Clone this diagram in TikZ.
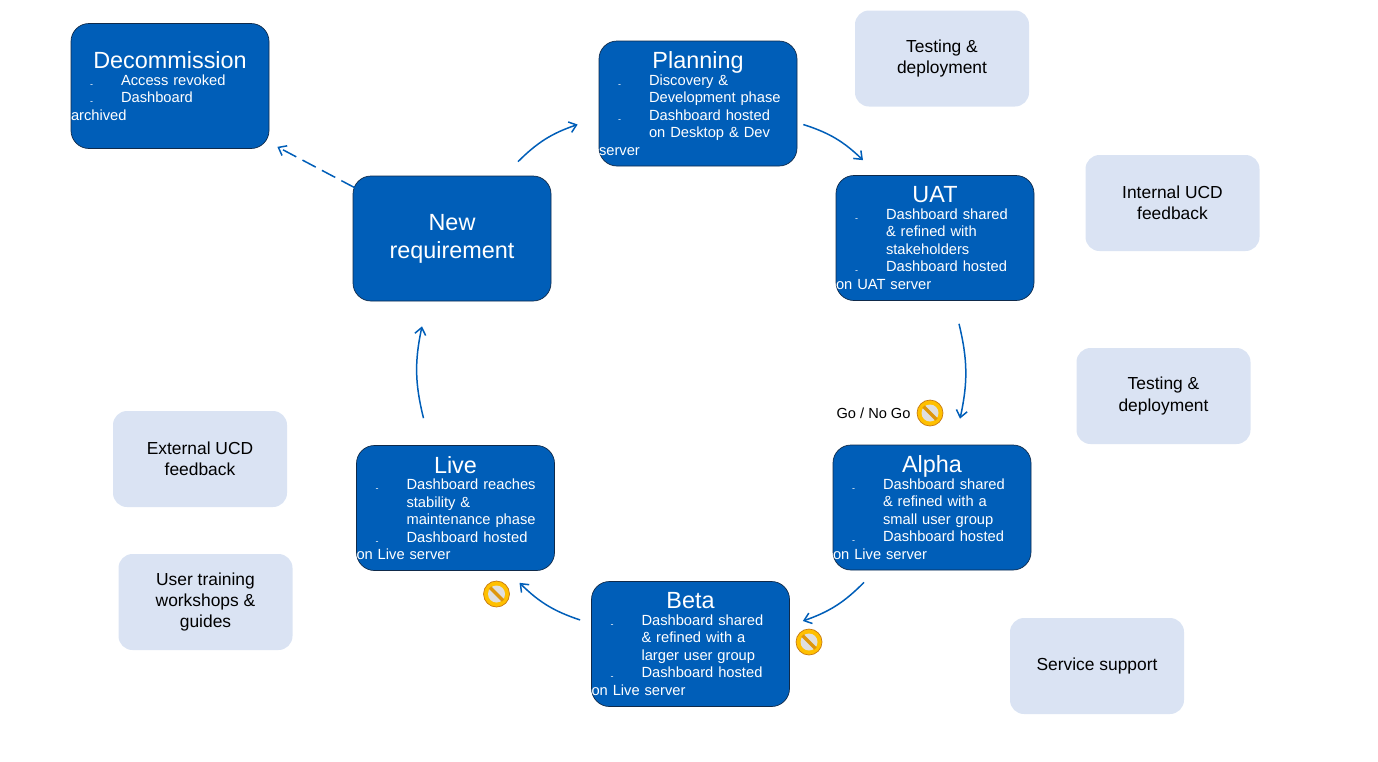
\documentclass[tikz,border=0pt]{standalone}
\usepackage{fontspec}
\setmainfont{Liberation Sans}
\usetikzlibrary{positioning,arrows.meta}
\definecolor{nhsblue}{HTML}{005EB8}
\definecolor{navyline}{HTML}{0F2A4A}
\definecolor{paleblue}{HTML}{DAE3F3}
\definecolor{stopfill}{HTML}{FFC000}
\definecolor{stopline}{HTML}{C87A10}
\newcommand{\boxtitle}[1]{{\centering\fontsize{23.4}{24}\selectfont #1\par}\vspace{-1pt}}
\newcommand{\dashitem}[1]{\par\leftskip=50pt\noindent\llap{\raisebox{-2pt}{\fontsize{9}{9}\selectfont -}\hspace{28pt}}#1}
\begin{document}
\begin{tikzpicture}[%
        x=1pt,y=-1pt,
        flow/.style={
          -{Straight Barb[length=7pt,width=11pt,line width=1.5pt]},
          draw=nhsblue,
          line width=1.5pt
        },
        stagebox/.style={
          rectangle,
          rounded corners=18pt,
          draw=navyline,
          fill=nhsblue,
          text=white,
          line width=0.7pt,
          inner sep=0pt,
          minimum width=198pt,
          minimum height=125pt,
          text width=198pt,
          font=\fontsize{14.7}{17.5}\selectfont
        },
        notebox/.style={
          rectangle,
          rounded corners=14pt,
          fill=paleblue,
          text=black,
          inner sep=0pt,
          minimum width=174pt,
          minimum height=96pt,
          align=center,
          font=\fontsize{17.4}{21.3}\selectfont
        },
        nogo/.style={
          circle,
          draw=stopline,
          fill=stopfill,
          line width=0.7pt,
          minimum size=26pt,
          inner sep=0pt,
          path picture={
            \fill[fill=white!75!gray] (path picture bounding box.center) circle (8.5pt);
            \draw[stopline!60!stopfill,line width=3.4pt,line cap=butt]
              ([shift={(-6.5pt,6.5pt)}]path picture bounding box.center) --
              ([shift={(6.5pt,-6.5pt)}]path picture bounding box.center);
          }
        }
      ]
      \useasboundingbox (0,0) rectangle (1378,761);

      \node[stagebox] (decommission) at (170,86) {\boxtitle{Decommission}
        \dashitem{Access revoked}
        \dashitem{Dashboard\\archived}};
      \node[stagebox] (planning) at (698,103.5) {\boxtitle{Planning}
        \dashitem{Discovery \&\\Development phase}
        \dashitem{Dashboard hosted\\on Desktop \& Dev\\server}};
      \node[stagebox] (uat) at (935,238) {\boxtitle{UAT}
        \dashitem{Dashboard shared\\\& refined with\\stakeholders}
        \dashitem{Dashboard hosted\\on UAT server}};
      \node[stagebox] (alpha) at (932,507.5) {\boxtitle{Alpha}
        \dashitem{Dashboard shared\\\& refined with a\\small user group}
        \dashitem{Dashboard hosted\\on Live server}};
      \node[stagebox] (beta) at (690.5,644) {\boxtitle{Beta}
        \dashitem{Dashboard shared\\\& refined with a\\larger user group}
        \dashitem{Dashboard hosted\\on Live server}};
      \node[stagebox] (live) at (455.5,508) {\boxtitle{Live}
        \dashitem{Dashboard reaches\\stability \&\\maintenance phase}
        \dashitem{Dashboard hosted\\on Live server}};
      \node[stagebox,align=center,font=\fontsize{23.4}{28}\selectfont] (newreq) at (452,238.5) {New\\requirement};

      \node[notebox] (testing1) at (942,58.5) {Testing \&\\deployment};
      \node[notebox] (ucdinternal) at (1172.5,203) {Internal UCD\\feedback};
      \node[notebox] (testing2) at (1163.5,396) {Testing \&\\deployment};
      \node[notebox] (support) at (1097,666) {Service support};
      \node[notebox] (ucdexternal) at (200,459) {External UCD\\feedback};
      \node[notebox] (training) at (205.5,602) {User training\\workshops \&\\guides};

      \node[nogo] (stopalpha) at (930,413) {};
      \node[nogo] (stopbeta) at (809,642) {};
      \node[nogo] (stoplive) at (496.5,594) {};
      \node[left=6pt of stopalpha,inner sep=0pt,font=\fontsize{14.6}{17}\selectfont] (gonogo) {Go / No Go};

      \draw[flow] ([shift={(66,-14)}]newreq.north) to[bend left=13] ([shift={(-21,21)}]planning.west);
      \draw[flow] ([shift={(6,21)}]planning.east) to[bend left=13] ([shift={(-72,-15)}]uat.north);
      \draw[flow] ([shift={(24,23)}]uat.south) to[bend left=13] ([shift={(28,-26)}]alpha.north);
      \draw[flow] ([shift={(-68,12)}]alpha.south) to[bend left=13] ([shift={(13,-23)}]beta.east);
      \draw[flow] ([shift={(-11,-24)}]beta.west) to[bend left=13] ([shift={(64,12)}]live.south);
      \draw[flow] ([shift={(-32,-27)}]live.north) to[bend left=13] ([shift={(-30,25)}]newreq.south);
      \draw[flow,dash pattern=on 15pt off 7pt] ([shift={(2,12)}]newreq.north west) -- ([shift={(8,-2)}]decommission.south east);
    \end{tikzpicture}
\end{document}
